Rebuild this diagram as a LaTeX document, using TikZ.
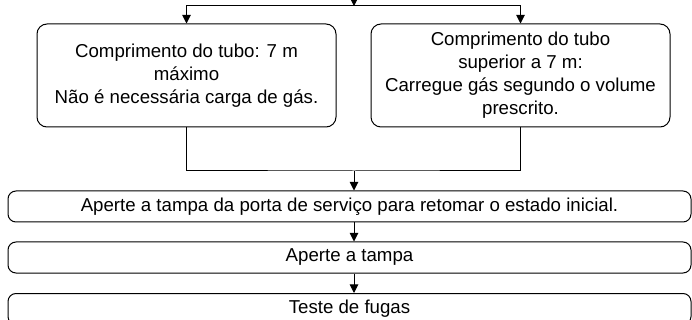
\documentclass[tikz,border=0pt]{standalone}
\usepackage{fontspec}
\setmainfont{Liberation Sans}
\usetikzlibrary{arrows.meta,positioning}

\begin{document}
\begin{tikzpicture}[
  x=0.75pt, y=-0.75pt,
  font=\fontsize{14}{17.25}\selectfont,
  cls/.style={draw, line width=0.75pt, rounded corners=7.5pt, align=center, inner sep=0pt},
  choice/.style={cls, minimum width=224.25pt, minimum height=77.25pt},
  stepbox/.style={cls, rounded corners=6pt, minimum width=512.25pt, minimum height=23.25pt},
  arrow/.style={-{Triangle[length=6.5pt,width=6.5pt]}, line width=0.75pt},
  link/.style={line width=0.75pt}
]
\useasboundingbox (0,0) rectangle (692,320);
\node[choice] (short) at (186.5,75.5) {Comprimento do tubo: 7 m\\máximo\\Não é necessária carga de gás.};
\node[choice] (long) at (520.5,75.5) {Comprimento do tubo\\superior a 7 m:\\Carregue gás segundo o volume\\prescrito.};
\node[stepbox] (cap) at (349.5,206.5) {Aperte a tampa da porta de serviço para retomar o estado inicial.};
\node[stepbox] (tighten) at (349.5,257.5) {Aperte a tampa};
\node[stepbox] (leak) at (349.5,309) {Teste de fugas};
\coordinate (in) at (354,-10);
\coordinate (split) at (354,6);
\coordinate (merge) at (354,171);
\draw[arrow] (in) -- (split);
\draw[arrow] (split) -| (short.north);
\draw[arrow] (split) -| (long.north);
\draw[link] (short.south) |- (merge) -| (long.south);
\draw[arrow] (merge) -- (merge |- cap.north);
\draw[arrow] (cap.south -| merge) -- (tighten.north -| merge);
\draw[arrow] (tighten.south -| merge) -- (leak.north -| merge);
\end{tikzpicture}
\end{document}
